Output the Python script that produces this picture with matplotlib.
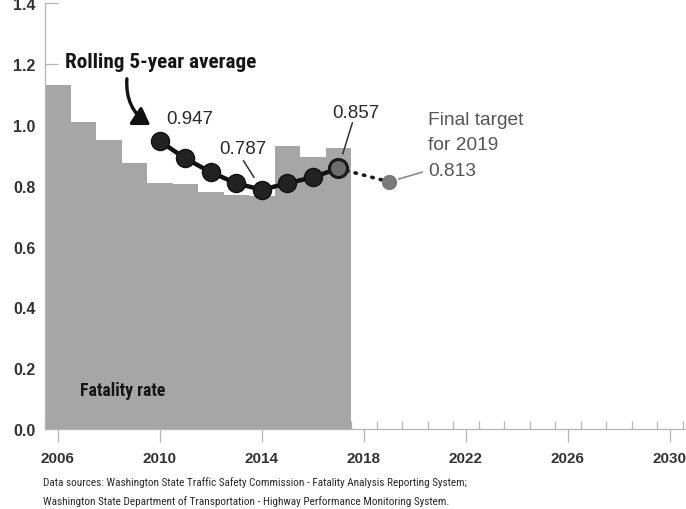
import matplotlib
matplotlib.use("Agg")
import matplotlib.pyplot as plt
from matplotlib import font_manager as fm
from matplotlib.patches import FancyArrowPatch
from matplotlib.ticker import FixedLocator

# Annual fatality rate (bars) and rolling 5-year average (line)
years = [2006, 2007, 2008, 2009, 2010, 2011, 2012, 2013, 2014, 2015, 2016, 2017]
fatality_rate = [1.13, 1.01, 0.95, 0.875, 0.81, 0.805, 0.78, 0.77, 0.765, 0.93, 0.895, 0.925]

avg_years = [2010, 2011, 2012, 2013, 2014, 2015, 2016, 2017]
rolling_avg = [0.947, 0.890, 0.845, 0.808, 0.787, 0.808, 0.828, 0.857]

target_year = 2019
target_value = 0.813

x_ticks = [2006, 2010, 2014, 2018, 2022, 2026, 2030]
y_ticks = [0.0, 0.2, 0.4, 0.6, 0.8, 1.0, 1.2, 1.4]

entries = fm.fontManager.ttflist
available = {f.name for f in entries}
BASE = "Liberation Sans" if "Liberation Sans" in available else "DejaVu Sans"


def pick_condensed():
    """Return (family, stretch) for a condensed sans face, or None."""
    for name in ("Liberation Sans Narrow", "Arial Narrow", "Roboto Condensed",
                 "Noto Sans Condensed", "Open Sans Condensed", "DejaVu Sans Condensed"):
        if name in available:
            return name, "normal"
    for fam in ("Noto Sans", "Open Sans", "Roboto", "DejaVu Sans"):
        for f in entries:
            if f.name == fam and str(f.stretch) in ("condensed", "semi-condensed", "600", "700"):
                return fam, "condensed"
    return None


cond = pick_condensed()
if cond is not None:
    COND_FAMILY, COND_STRETCH = cond
    SIZE_ROLL, SIZE_FAT, SIZE_NOTE = 15.2, 12.8, 8.1
else:
    COND_FAMILY, COND_STRETCH = BASE, "normal"
    SIZE_ROLL, SIZE_FAT, SIZE_NOTE = 12.9, 10.9, 7.2

plt.rcParams["font.family"] = [BASE, "DejaVu Sans"]

BAR = "#a6a6a6"
DARK = "#222222"
AXIS = "#b5b5b5"
TEXT = "#2a2a2a"

fig = plt.figure(figsize=(6.86, 5.10), dpi=100)
ax = fig.add_axes([45 / 686, 80 / 510, 641 / 686, 425.6 / 510])
ax.set_xlim(2005.5, 2005.5 + 641 / 25.5)
ax.set_ylim(0, 1.4)
ax.set_axisbelow(True)

# Yearly rates as one stepped block (each year spans year-0.5 .. year+0.5)
bar_edges = [y - 0.5 for y in years] + [years[-1] + 0.5]
ax.stairs(fatality_rate, bar_edges, baseline=0, fill=True, color=BAR,
          linewidth=0, zorder=1)

# Rolling average line with markers
ax.plot(avg_years, rolling_avg, color="#111111", lw=3.2, zorder=3,
        solid_capstyle="round")
ax.plot(avg_years[:-1], rolling_avg[:-1], "o", ms=13, color=DARK,
        mec="#111111", zorder=4)
ax.plot(avg_years[-1], rolling_avg[-1], "o", ms=13, color="#6d6d6d",
        mec="#1a1a1a", mew=2.2, zorder=4)

# Dotted link to the final target
ax.plot([avg_years[-1], target_year], [rolling_avg[-1], target_value],
        color="#1a1a1a", lw=2.6, ls=(0, (0.4, 2.0)), dash_capstyle="round",
        zorder=2)
ax.plot(target_year, target_value, "o", ms=11, color="#7a7a7a", mec="none",
        zorder=4)

# Axes styling
for side in ("top", "right"):
    ax.spines[side].set_visible(False)
for side in ("left", "bottom"):
    ax.spines[side].set_color(AXIS)
    ax.spines[side].set_linewidth(0.9)

ax.xaxis.set_major_locator(FixedLocator(x_ticks))
ax.xaxis.set_minor_locator(FixedLocator([y + 0.5 for y in range(2005, 2031)]))
ax.yaxis.set_major_locator(FixedLocator(y_ticks))
ax.set_xticklabels([str(t) for t in x_ticks], fontweight="bold")
ax.set_yticklabels([f"{t:.1f}" for t in y_ticks], fontweight="bold")

ax.tick_params(axis="x", which="major", direction="out", length=9, width=0.9,
               color=AXIS, pad=7, labelsize=11, labelcolor="#333333")
ax.tick_params(axis="x", which="minor", direction="in", length=6, width=0.9,
               color=AXIS)
ax.tick_params(axis="y", which="major", direction="in", length=9, width=0.9,
               color=AXIS, pad=7, labelsize=11.5, labelcolor="#333333")

# Value labels
ax.annotate("0.947", xy=(2010, 0.947), xytext=(4.5, 16), textcoords="offset points",
            ha="left", va="center", fontsize=13.5, color=TEXT, zorder=5)
ax.annotate("0.787", xy=(2014, 0.787), xytext=(-13.5, 29.5), textcoords="offset points",
            ha="center", va="center", fontsize=13.5, color=TEXT, zorder=5)
ax.annotate("", xy=(2014, 0.787), xytext=(-13.2, 21), textcoords="offset points",
            arrowprops=dict(arrowstyle="-", color="#333333", lw=1.1,
                            shrinkA=0, shrinkB=10.5), zorder=5)
ax.annotate("0.857", xy=(2017, 0.857), xytext=(12.6, 40.5), textcoords="offset points",
            ha="center", va="center", fontsize=13.5, color=TEXT, zorder=5)
ax.annotate("", xy=(2017, 0.857), xytext=(10.2, 33), textcoords="offset points",
            arrowprops=dict(arrowstyle="-", color="#333333", lw=1.1,
                            shrinkA=0, shrinkB=11), zorder=5)

# Target callout
ax.text(2020.52, 1.047, "Final target\nfor 2019\n0.813", ha="left", va="top",
        fontsize=13.8, color="#555555", linespacing=1.65, zorder=5)
ax.annotate("", xy=(target_year, target_value), xytext=(2020.3, 0.845),
            arrowprops=dict(arrowstyle="-", color="#8a8a8a", lw=1.2,
                            shrinkA=0, shrinkB=7), zorder=5)

# Series labels
ax.text(2006.28, 1.21, "Rolling 5-year average", ha="left", va="center",
        fontsize=SIZE_ROLL, fontweight="bold", family=[COND_FAMILY, "DejaVu Sans"],
        fontstretch=COND_STRETCH, color="#151515", zorder=5)
ax.text(2006.87, 0.128, "Fatality rate", ha="left", va="center",
        fontsize=SIZE_FAT, fontweight="bold", family=[COND_FAMILY, "DejaVu Sans"],
        fontstretch=COND_STRETCH, color="#151515", zorder=5)

arrow = FancyArrowPatch((2008.72, 1.161), (2009.72, 0.995),
                        connectionstyle="arc3,rad=0.32",
                        arrowstyle="-|>,head_length=0.7,head_width=0.45",
                        mutation_scale=14, lw=2.4, color="#111111", zorder=5)
ax.add_patch(arrow)

note_kw = dict(ha="left", va="center", fontsize=SIZE_NOTE, color=TEXT,
               family=[COND_FAMILY, "DejaVu Sans"], fontstretch=COND_STRETCH)
fig.text(43 / 686, 1 - 483 / 510,
         "Data sources: Washington State Traffic Safety Commission - Fatality Analysis Reporting System;",
         **note_kw)
fig.text(43 / 686, 1 - 502 / 510,
         "Washington State Department of Transportation - Highway Performance Monitoring System.",
         **note_kw)

fig.savefig("out.png", dpi=100)
